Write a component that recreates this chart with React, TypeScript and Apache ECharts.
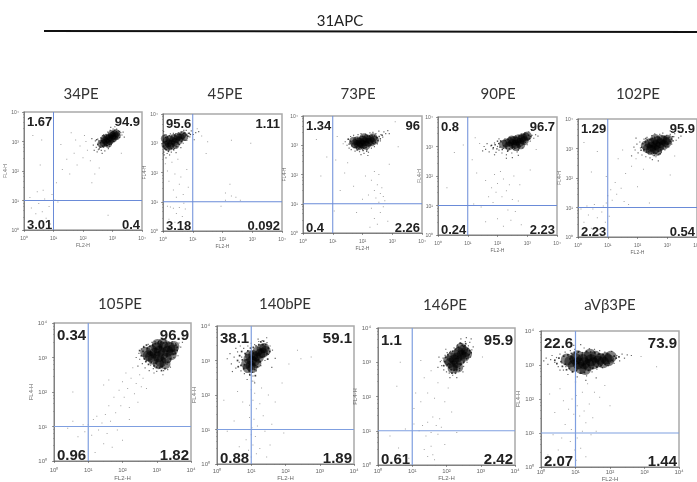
import React, { useEffect, useRef } from "react";
import * as echarts from "echarts";

// All points are written as [log10 FL2-H, log10 FL4-H].
const panelNames = ["34PE", "45PE", "73PE", "90PE", "102PE", "105PE", "140bPE", "146PE", "aVβ3PE"];
const quadrantValues = [
  ["1.67", "94.9", "3.01", "0.4"],
  ["95.6", "1.11", "3.18", "0.092"],
  ["1.34", "96", "0.4", "2.26"],
  ["0.8", "96.7", "0.24", "2.23"],
  ["1.29", "95.9", "2.23", "0.54"],
  ["0.34", "96.9", "0.96", "1.82"],
  ["38.1", "59.1", "0.88", "1.89"],
  ["1.1", "95.9", "0.61", "2.42"],
  ["22.6", "73.9", "2.07", "1.44"],
];
const gate = 10;
const tickLabels: Record<number, string> = { 1: "10⁰", 10: "10¹", 100: "10²", 1000: "10³", 10000: "10⁴" };
const panelRects = [
  [24, 112, 118, 118], [163, 114, 119, 117], [303, 116, 119, 117], [438, 117, 119, 118], [578, 119, 119, 118],
  [54, 323, 137, 138], [217, 326, 137, 138], [378, 328, 137, 137], [541, 331, 138, 136],
];
const titlePositions = [[81, 93], [225, 93], [358, 93], [498, 93], [638, 93], [120, 303], [285, 303], [445, 304], [610, 304]];
const coreSizes = [8, 8, 9, 9, 10, 11, 10, 10, 12];
const xTickMargins = [5, 5, 5, 5, 5, 6, 4, 3, 2];
const xNameGaps = [12, 12, 12, 12, 12, 14, 11, 10, 8];

const core34 = [[2.62,2.92],[2.7,2.95],[2.75,3.02],[2.8,2.98],[2.85,3.08],[2.9,3.02],[2.9,3.14],[2.95,3.1],[3,3.18],[3.02,3.1],[3.05,3.24],[3.08,3.18],[3.12,3.28],[2.72,3.08],[2.8,3.12],[2.97,3.25],[3.15,3.2],[2.85,2.92]];
const fine34 = [[2.5,2.9],[2.54,3.02],[2.58,2.8],[2.6,2.96],[2.64,3.1],[2.66,2.84],[2.68,3.02],[2.72,2.86],[2.74,3.16],[2.76,2.92],[2.8,3.2],[2.82,2.86],[2.84,3.02],[2.88,3.24],[2.9,2.9],[2.92,3.08],[2.95,2.96],[2.96,3.3],[2.98,3.04],[3.02,3.34],[3.04,3],[3.06,3.14],[3.08,3.38],[3.1,3.1],[3.14,3.34],[3.16,3.14],[3.18,3.28],[3.22,3.22],[3.24,3.34],[2.7,3.22],[2.46,3.06],[2.55,2.75]];
const halo34 = [[2.35,2.88],[2.42,3.02],[2.45,2.8],[2.5,3.08],[2.52,2.72],[2.55,2.95],[2.58,2.84],[2.6,3.12],[2.62,2.7],[2.66,3.2],[2.7,2.8],[2.74,2.68],[2.78,3.24],[2.8,2.86],[2.84,3.32],[2.86,2.76],[2.9,2.84],[2.92,3.38],[2.96,2.9],[3,2.95],[3.02,3.42],[3.05,3],[3.08,3.5],[3.1,3.05],[3.14,3.42],[3.18,3.08],[3.2,3.36],[3.24,3.14],[3.28,3.3],[3.32,3.22],[3.36,3.32],[2.48,2.65],[2.3,3.1],[3.12,3.58],[2.65,2.6],[3.4,3.15],[2.38,2.7],[2.94,3.48]];
const sparse34 = [[0.15,0.3],[0.25,0.75],[0.3,0.15],[0.4,0.55],[0.5,0.9],[0.55,0.25],[0.62,0.62],[0.7,1.05],[0.75,0.4],[0.85,0.8],[0.9,0.2],[0.95,1.2],[0.2,1.1],[0.45,1.3],[0.65,1.35],[1.05,1.02],[1.15,0.95],[1.1,1.6],[1.3,2.05],[1.45,2.4],[1.55,1.9],[1.7,2.6],[1.8,2.2],[1.9,2.85],[2,2.45],[2.1,3],[2.15,2.7],[2.25,2.35],[1.6,3.3],[1.75,3.05],[2.05,3.2],[2.4,1.9],[2.55,2.1],[2.3,1.6],[2.85,0.5],[0.6,3.05],[0.55,2.2],[0.3,3.2],[3.3,2.6],[1.25,2.9]];

const core45 = [[0.08,2.95],[0.12,3.08],[0.18,3],[0.22,3.12],[0.28,2.98],[0.32,3.08],[0.35,3.18],[0.4,3.04],[0.45,3.14],[0.5,3.22],[0.55,3.1],[0.6,3.2],[0.65,3.28],[0.15,2.88],[0.25,2.9],[0.42,2.94],[0.72,3.22],[0.06,3.16]];
const fine45 = [[0.02,2.9],[0.04,3.02],[0.06,2.82],[0.08,3.2],[0.1,2.94],[0.12,2.78],[0.14,3.22],[0.16,3.06],[0.2,2.84],[0.22,3.26],[0.24,3.02],[0.28,2.82],[0.3,3.24],[0.34,2.92],[0.38,3.28],[0.4,3.12],[0.44,2.88],[0.48,3.04],[0.5,3.3],[0.54,2.96],[0.58,3.3],[0.62,3.06],[0.66,3.16],[0.7,3.34],[0.74,3.1],[0.78,3.28],[0.84,3.24],[0.88,3.34],[0.92,3.3],[0.36,2.78],[0.18,2.72],[0.46,3.2]];
const halo45 = [[0.03,2.7],[0.05,3.28],[0.08,2.78],[0.1,3.3],[0.14,2.65],[0.18,3.25],[0.2,2.75],[0.25,3.32],[0.28,2.7],[0.3,2.82],[0.35,3.34],[0.38,2.82],[0.42,3.32],[0.48,2.88],[0.52,3.36],[0.56,2.95],[0.62,3.38],[0.68,3],[0.74,3.36],[0.8,3.1],[0.85,3.34],[0.9,3.22],[0.95,3.42],[1.02,3.3],[1.1,3.36],[1.2,3.4],[0.04,2.6],[0.1,2.5],[0.7,3.44],[0.78,3.44],[0.6,2.85],[1.05,3.12],[0.22,2.6],[0.02,3.4],[0.44,2.68]];
const sparse45 = [[0.08,2.3],[0.15,2.05],[0.2,1.7],[0.3,2.35],[0.35,1.4],[0.4,1.95],[0.45,1.15],[0.5,2.45],[0.55,1.6],[0.6,1.85],[0.68,1.25],[0.7,0.95],[0.15,0.85],[0.25,0.82],[0.35,0.78],[0.45,0.6],[0.55,0.8],[0.65,0.5],[0.4,0.3],[0.2,0.4],[0.75,0.75],[0.8,2.1],[1.5,3.05],[2.3,3.1],[2.95,3],[1.45,2.65],[2.25,1.6],[2.3,1.2],[2.1,1.05],[2.45,1.15],[2.1,1.3],[1.95,0.85],[2.6,1.05],[0.85,1.5],[1.15,3.5],[1.3,3.25]];

const core73 = [[1.75,3.05],[1.82,3.15],[1.88,2.98],[1.92,3.1],[2,3.18],[2.02,3.02],[2.08,3.12],[2.12,3],[2.15,3.22],[2.2,3.1],[2.25,3.2],[2.3,3.12],[2.35,3.26],[1.7,3.14],[1.85,3.04],[2.05,3.26],[2.4,3.18],[1.96,3.05]];
const fine73 = [[1.55,3.04],[1.6,3.14],[1.64,2.98],[1.68,3.06],[1.72,2.92],[1.76,3.2],[1.8,2.96],[1.84,3.24],[1.88,2.88],[1.92,3.22],[1.96,2.92],[2,3.3],[2.04,2.9],[2.08,3.28],[2.12,2.92],[2.16,3.32],[2.2,2.98],[2.24,3.3],[2.28,3.02],[2.32,3.34],[2.36,3.06],[2.4,3.32],[2.44,3.1],[2.48,3.26],[2.52,3.16],[2.56,3.3],[2.6,3.22],[2.02,2.82],[1.82,2.84],[2.14,2.8],[2.66,3.34],[1.52,3.2]];
const halo73 = [[1.42,3.12],[1.48,3],[1.52,3.22],[1.55,2.9],[1.6,3.3],[1.62,2.85],[1.68,2.95],[1.7,3.34],[1.75,2.8],[1.8,2.9],[1.85,3.36],[1.9,2.78],[1.95,3.4],[2,2.85],[2.05,2.72],[2.1,3.38],[2.15,2.85],[2.2,2.76],[2.25,3.42],[2.3,2.9],[2.35,3.44],[2.4,2.95],[2.45,3.4],[2.5,3.05],[2.55,3.48],[2.6,3.15],[2.62,3.36],[2.68,3.28],[2.72,3.46],[2.78,3.4],[2.85,3.5],[2.5,3.25],[1.58,3.08],[2.18,2.65],[1.95,2.68],[2.9,3.4]];
const sparse73 = [[2.3,1.8],[2.4,1.45],[2.45,1.2],[2.5,1.65],[2.55,1.05],[2.6,1.35],[2.65,1.55],[2.7,1.25],[2.75,1.1],[2.3,0.85],[2.4,0.5],[2.5,0.3],[2.6,0.7],[2.7,0.9],[2.2,1.3],[2.1,1.95],[1.7,1.6],[1.4,2.05],[0.8,2.6],[1.35,3.05],[1.1,2.5],[1.25,1.45],[2,1.15],[1.5,2.4],[2.9,2.35],[2.4,2.1],[3.1,3.8],[3.2,2.95],[0.6,1.95],[0.45,3.2],[1.15,3.3],[2.55,2],[2.25,0.2],[2.85,0.4],[1.05,0.75],[1.8,0.7]];

const core90 = [[2.2,3.08],[2.3,3.12],[2.38,3.02],[2.42,3.16],[2.5,3.1],[2.55,3.2],[2.6,3.08],[2.65,3.18],[2.7,3.26],[2.75,3.14],[2.8,3.24],[2.85,3.3],[2.9,3.2],[2.95,3.32],[2.48,3.22],[2.62,3],[2.78,3.06],[3,3.36]];
const fine90 = [[1.8,3.04],[1.86,2.96],[1.92,3.06],[1.98,2.92],[2.04,3.1],[2.08,2.98],[2.12,3.16],[2.16,2.9],[2.2,3.02],[2.26,3.2],[2.3,2.94],[2.36,3.24],[2.4,2.92],[2.44,3.06],[2.5,2.94],[2.54,3.3],[2.58,2.94],[2.64,3.32],[2.68,3.02],[2.72,3.36],[2.76,3],[2.82,3.38],[2.86,3.12],[2.9,3.4],[2.94,3.14],[3,3.24],[3.04,3.38],[3.08,3.26],[3.12,3.34],[2,3.18],[2.34,2.84],[2.7,2.88]];
const halo90 = [[1.55,3],[1.6,2.9],[1.65,3.1],[1.72,2.82],[1.78,3.02],[1.85,2.92],[1.9,3.12],[1.95,2.8],[2,3],[2.05,2.88],[2.1,3.2],[2.15,2.78],[2.2,2.94],[2.25,3.26],[2.3,2.72],[2.35,2.86],[2.42,3.3],[2.48,2.78],[2.55,2.9],[2.6,3.36],[2.66,2.82],[2.72,2.96],[2.8,3.42],[2.85,2.95],[2.92,3.46],[3,3.06],[3.05,3.5],[3.1,3.18],[3.16,3.38],[3.22,3.28],[3.28,3.4],[3.36,3.35],[2.5,2.62],[2.7,2.7],[1.5,2.85],[2.05,3.26],[1.9,2.72],[3.15,3.55],[2.3,2.6]];
const sparse90 = [[1.6,1.85],[1.7,1.3],[1.8,1.6],[1.85,1.1],[1.9,2.05],[1.95,1.45],[2,1.75],[2.1,2.15],[2.15,1.3],[2.2,1.9],[2.3,1.5],[2.35,0.85],[2.4,1.7],[2.5,1.2],[2.55,2],[2.6,0.8],[2.7,1.15],[2.75,1.7],[2.45,0.5],[2,0.55],[1.6,0.45],[1.45,0.95],[1.2,1.05],[0.85,3.05],[0.6,3.5],[0.55,2.8],[1.15,2.55],[1.3,2.1],[0.3,1.6],[1.25,3.3],[1.4,3.1],[3.1,2.2],[2.2,0.3],[2.8,0.35],[3.3,2.9],[0.9,0.3]];

const core102 = [[2.28,3.1],[2.35,3],[2.4,3.18],[2.48,3.06],[2.52,3.2],[2.58,2.98],[2.62,3.12],[2.68,3.24],[2.72,3.05],[2.78,3.18],[2.82,3.3],[2.88,3.12],[2.92,3.26],[2.98,3.2],[2.45,2.95],[2.66,2.92],[2.6,3.32],[3.02,3.3]];
const fine102 = [[2.14,3.04],[2.18,3.16],[2.22,2.96],[2.26,3.22],[2.3,2.88],[2.34,3.28],[2.38,2.9],[2.42,3.3],[2.46,2.84],[2.5,3.34],[2.54,2.88],[2.58,3.38],[2.62,2.84],[2.66,3.4],[2.7,2.9],[2.74,3.36],[2.78,2.96],[2.82,3.42],[2.86,3],[2.9,3.38],[2.94,3.06],[2.98,3.36],[3.02,3.14],[3.06,3.38],[3.1,3.24],[3.14,3.32],[3.18,3.4],[2.12,2.94],[2.28,3.34],[2.56,2.76],[2.76,2.82],[3.2,3.26]];
const halo102 = [[1.88,3.05],[1.92,2.95],[1.98,3.15],[2.02,2.85],[2.08,3.22],[2.1,3.02],[2.15,2.78],[2.2,2.92],[2.22,3.32],[2.28,2.72],[2.32,3.38],[2.38,2.82],[2.42,2.68],[2.48,3.44],[2.52,2.78],[2.58,3.5],[2.62,2.72],[2.7,2.8],[2.75,3.48],[2.8,2.88],[2.85,3.52],[2.92,2.95],[2.98,3.45],[3.05,3.05],[3.1,3.48],[3.15,3.15],[3.22,3.4],[3.3,3.28],[3.38,3.36],[3.46,3.42],[3.1,3.6],[2.7,2.58],[1.8,2.75],[2.5,2.62],[1.95,3.35],[3.25,3.5]];
const sparse102 = [[0.1,0.95],[0.2,0.5],[0.3,1.05],[0.35,0.75],[0.45,0.3],[0.5,0.95],[0.55,1.1],[0.65,0.65],[0.7,0.25],[0.8,0.85],[0.85,1.05],[0.92,0.5],[0.95,1.15],[1,1.4],[1.05,0.7],[1.1,1.6],[1.15,1.25],[1.25,1.85],[1.3,1.45],[1.45,1.65],[1.55,1.2],[1.6,2.15],[1.7,1.1],[1.8,2.4],[1.35,2.65],[0.95,2.05],[0.65,2.9],[0.45,2.2],[1.5,2.95],[2,1.7],[2.2,2.3],[2.4,1.15],[1.95,2.65],[3.1,2.1],[3.25,2.75],[0.2,3.2]];

const core105 = [[2.75,3.05],[2.85,3.2],[2.9,2.95],[2.95,3.12],[3,3.28],[3.05,3.02],[3.08,3.18],[3.12,2.88],[3.18,3.1],[3.22,3.3],[3.28,2.98],[3.32,3.18],[3.38,3.3],[3.42,3.08],[3.46,3.22],[2.82,3.02],[3.05,2.82],[3.24,2.82],[3.5,3.32],[3.02,3.38],[3.18,3.4],[2.68,3.15]];
const fine105 = [[2.55,3.05],[2.6,3.18],[2.64,2.96],[2.68,2.88],[2.72,3.26],[2.76,2.8],[2.8,3.32],[2.84,2.86],[2.88,3.36],[2.92,2.76],[2.96,3.4],[3,2.72],[3.04,3.42],[3.08,2.7],[3.12,3.44],[3.16,2.74],[3.2,3.42],[3.24,2.68],[3.28,3.44],[3.32,2.86],[3.36,3.42],[3.4,2.96],[3.44,3.4],[3.48,3.1],[3.52,3.22],[3.56,3.36],[3.6,3.3],[2.7,3.36],[2.98,2.84],[3.14,2.62],[2.62,3.3],[3.3,3.06],[3.1,3.26],[2.9,3.08],[3.54,3.12],[2.5,3.2]];
const halo105 = [[2.48,3.12],[2.5,2.95],[2.55,3.25],[2.58,2.82],[2.62,3.32],[2.66,2.7],[2.7,2.9],[2.75,3.38],[2.78,2.62],[2.82,2.78],[2.86,3.44],[2.9,2.68],[2.95,3.46],[3,2.6],[3.05,3.46],[3.1,2.72],[3.15,3.46],[3.2,2.62],[3.25,3.48],[3.3,2.8],[3.35,3.46],[3.4,2.9],[3.45,3.46],[3.5,3],[3.55,3.4],[3.6,3.2],[3.65,3.42],[3.7,3.3],[3.75,3.44],[3.62,3.05],[2.4,3],[2.92,2.55],[3.18,2.5],[2.45,2.75],[3.32,2.65],[3.4,2.72]];
const sparse105 = [[0.4,0.95],[0.55,1.15],[0.7,0.7],[0.85,1.05],[0.9,0.85],[1,1.05],[1.1,0.75],[1.15,1.2],[1.25,1.3],[1.3,0.9],[1.4,1.1],[1.45,0.5],[1.5,1.35],[1.55,0.8],[1.6,1.6],[1.65,1.15],[1.7,0.4],[1.75,1.85],[1.8,1.4],[1.85,0.9],[1.9,2.05],[1.95,1.6],[2,2.3],[2.05,1.85],[2.1,2.55],[2.15,2.1],[2.2,1.55],[2.25,2.4],[2.3,2.7],[2.35,1.95],[2.4,2.25],[2.45,1.7],[2.5,2.5],[2.55,2.15],[2.6,2.4],[1.6,2.35],[1.45,2.2],[2.2,1.2],[0.55,2],[1.2,0.25],[2,0.6],[2.7,2.1]];

const core140 = [[0.85,2.9],[0.92,3.05],[0.98,2.85],[1.02,3],[1.06,3.16],[1.1,2.98],[1.14,3.12],[1.18,3.26],[1.22,3.08],[1.26,3.2],[1.3,3.34],[1.34,3.22],[1.38,3.36],[1.03,2.78],[0.96,3.15],[1.15,2.92],[1.42,3.28],[0.9,2.78]];
const fine140 = [[0.6,3],[0.66,3.14],[0.7,2.86],[0.74,3.02],[0.78,2.76],[0.82,3.2],[0.86,3.02],[0.9,3.28],[0.94,2.7],[0.98,3.36],[1.02,2.66],[1.06,3.38],[1.1,2.74],[1.14,3.42],[1.18,2.82],[1.22,3.46],[1.26,2.96],[1.3,3.1],[1.34,3.46],[1.38,3.12],[1.42,3.46],[1.46,3.2],[1.5,3.36],[1.54,3.26],[0.8,2.88],[0.72,3.26],[1.12,2.56],[0.96,2.58],[1.28,3.54],[1.36,3.56],[0.62,2.82],[1.48,3.04]];
const halo140 = [[0.3,3.05],[0.38,3.2],[0.42,2.9],[0.5,3.1],[0.55,2.78],[0.6,3.25],[0.65,2.95],[0.7,2.7],[0.72,3.1],[0.78,3.35],[0.8,2.62],[0.85,3.18],[0.9,3.42],[0.95,2.6],[1,3.5],[1.05,2.55],[1.1,3.46],[1.15,2.7],[1.22,3.55],[1.28,2.85],[1.32,3.58],[1.4,3],[1.46,3.52],[1.5,3.18],[1.55,3.42],[1.62,3.3],[0.68,3.42],[1.2,3.62],[1.02,2.4],[0.88,2.45],[1.1,2.35],[0.55,3.35],[1.7,3.06],[1.45,3.66],[0.45,2.68],[1.6,2.8]];
const sparse140 = [[1,2.15],[1.05,1.85],[1.1,2.05],[1.15,1.6],[0.95,1.35],[1.02,1.05],[1.08,1.3],[1.12,0.8],[1.18,1.1],[1.25,1.75],[1.3,2.2],[1.35,1.4],[1.4,0.95],[0.85,0.7],[0.92,0.4],[1,0.2],[1.05,0.55],[1.15,0.3],[1.25,0.45],[0.75,1.8],[0.6,2.1],[0.5,1.25],[0.3,0.95],[0.65,0.5],[1.6,1.15],[1.5,2],[1.7,1.8],[1.9,2.35],[2.1,2.9],[2.35,3.3],[2.75,3.1],[2.45,3.05],[0.2,1.85],[1.45,0.2],[1.95,0.9],[1.55,0.55],[0.95,1.7],[1.08,2.4],[1,0.85]];

const core146 = [[2.1,2.98],[2.15,3.14],[2.2,2.9],[2.22,3.08],[2.26,3.22],[2.3,2.98],[2.32,3.14],[2.36,3.3],[2.4,3.06],[2.44,3.22],[2.48,3.36],[2.52,3.16],[2.56,3.3],[2.18,2.82],[2.34,2.85],[2.05,3.06],[2.42,3.42],[2.6,3.24]];
const fine146 = [[1.95,3.02],[1.98,3.14],[2.02,2.92],[2.04,3.22],[2.08,2.84],[2.1,3.28],[2.14,2.78],[2.18,3.32],[2.22,2.76],[2.26,3.38],[2.3,2.78],[2.34,3.44],[2.38,2.82],[2.42,2.94],[2.46,3.5],[2.5,3],[2.54,3.48],[2.58,3.1],[2.62,3.4],[2.66,3.22],[2.68,3.34],[2.12,3.08],[2.28,3.06],[2.38,3.18],[2.5,3.46],[2.06,2.96],[2.26,2.68],[2.72,3.28],[1.92,2.9],[2.4,3.56],[2.56,3.54],[2.16,2.68]];
const halo146 = [[1.82,3.02],[1.86,2.9],[1.9,3.12],[1.92,2.78],[1.96,3.2],[2,2.72],[2.02,3.28],[2.08,2.68],[2.12,3.32],[2.18,2.62],[2.22,3.42],[2.28,2.7],[2.32,3.5],[2.38,2.76],[2.44,3.55],[2.5,2.88],[2.55,3.6],[2.6,3],[2.64,3.48],[2.7,3.15],[2.74,3.36],[2.78,3.45],[2.42,3.68],[2.3,2.55],[2.1,2.55],[1.78,3.15],[1.75,2.85],[2.58,3.72],[2.68,3.58],[2.48,2.72],[2.72,3.68],[1.98,3.38]];
const sparse146 = [[1.2,1],[1.3,1.15],[1.4,0.85],[1.45,1.25],[1.55,0.95],[1.6,1.4],[1.7,1.15],[1.75,0.9],[1.8,1.35],[1.85,1.1],[1.35,0.45],[1.45,0.25],[1.55,0.55],[1.6,0.3],[1.65,0.15],[1.05,1.65],[1.1,2.1],[1.25,1.85],[1.35,2.55],[1.45,2.1],[1.55,2.75],[1.65,1.95],[1.75,2.4],[1.85,3.05],[1.95,1.85],[2.05,2.25],[1.25,3.05],[0.65,3],[0.55,2.3],[0.35,0.85],[0.6,0.5],[0.8,1.05],[0.9,0.2],[2.15,1.55],[3.05,3.15],[1.05,1.2],[2.3,0.95],[1.95,0.6]];

const core9 = [[0.85,3.1],[0.95,2.98],[1,3.18],[1.08,3.05],[1.15,2.92],[1.2,3.15],[1.25,3.05],[1.32,3.22],[1.38,3],[1.45,3.14],[1.52,3.05],[1.58,3.24],[1.65,3.1],[1.72,3.18],[1.8,3.08],[1.88,3.2],[1.95,3.14],[1.05,3.26],[1.28,2.88],[2.02,3.24],[0.75,3.16],[1.42,3.3]];
const fine9 = [[0.4,3.14],[0.46,3.04],[0.52,3.2],[0.58,3.1],[0.62,2.96],[0.66,3.26],[0.7,3.02],[0.74,2.86],[0.78,3.3],[0.82,2.9],[0.88,3.34],[0.92,2.8],[0.98,3.36],[1.02,2.84],[1.08,3.38],[1.14,2.76],[1.2,3.36],[1.26,2.78],[1.32,3.4],[1.38,2.84],[1.44,3.38],[1.5,2.9],[1.56,3.36],[1.62,2.94],[1.68,3.32],[1.74,2.98],[1.8,3.3],[1.86,3.02],[1.92,3.32],[1.98,3.04],[2.06,3.14],[2.12,3.26],[2.18,3.2],[2.26,3.24],[0.84,3.18],[1.1,2.98]];
const halo9 = [[0.08,3.12],[0.15,3.2],[0.2,3.02],[0.28,3.16],[0.32,3.28],[0.4,3.08],[0.45,3.22],[0.5,2.95],[0.55,3.32],[0.6,3.06],[0.65,2.85],[0.7,3.38],[0.72,2.95],[0.78,2.72],[0.85,3.42],[0.9,2.8],[0.98,3.46],[1.05,2.65],[1.1,3.4],[1.18,2.75],[1.25,3.5],[1.32,2.68],[1.4,3.48],[1.48,2.8],[1.55,3.46],[1.62,2.88],[1.7,3.42],[1.78,2.92],[1.85,3.38],[1.95,2.98],[2.05,3.4],[2.12,3.05],[2.2,3.28],[2.28,3.12],[2.35,3.32],[2.42,3.2],[2.5,3.3],[0.55,2.85],[2.62,3.28],[1,2.5],[0.95,3.58],[1.15,3.6],[1.6,2.62],[1.3,2.55]];
const sparse9 = [[1,2.35],[1.02,2.1],[1.05,1.8],[0.95,1.55],[1,1.2],[1.05,0.85],[0.98,0.5],[1.02,0.2],[0.9,2],[0.8,1.7],[0.7,1.25],[0.6,0.85],[0.5,0.5],[0.35,0.95],[0.2,0.35],[0.75,0.3],[0.85,0.75],[1.2,2.2],[1.25,1.65],[1.3,1.3],[1.35,2.45],[1.4,1.85],[1.45,0.95],[1.5,1.45],[1.55,2.2],[1.15,0.55],[1.3,0.3],[1.6,1.05],[0.4,1.6],[0.55,2.3],[0.25,2.15],[0.65,1.95],[1.7,2.05],[1.85,2.4],[2,1.8],[1.2,1.05],[3.35,2.95],[2.9,3.25],[0.88,1.1],[1.12,1.5]];

const coreSets = [core34, core45, core73, core90, core102, core105, core140, core146, core9];
const fineSets = [fine34, fine45, fine73, fine90, fine102, fine105, fine140, fine146, fine9];
const haloSets = [halo34, halo45, halo73, halo90, halo102, halo105, halo140, halo146, halo9];
const sparseSets = [sparse34, sparse45, sparse73, sparse90, sparse102, sparse105, sparse140, sparse146, sparse9];

const toAxis = (list: number[][]) => list.map(([x, y]) => [Math.pow(10, x), Math.pow(10, y)]);

function buildOption() {
  const grid: any[] = [], xAxis: any[] = [], yAxis: any[] = [], series: any[] = [], graphic: any[] = [];
  graphic.push({ type: "text", x: 340, y: 20, style: { text: "31APC", font: "15px Lato", fill: "#222", textAlign: "center", textVerticalAlign: "middle" } });
  graphic.push({ type: "line", shape: { x1: 44, y1: 31, x2: 697, y2: 32 }, style: { stroke: "#111", lineWidth: 2 } });
  panelNames.forEach((name, i) => {
    const [x, y, w, h] = panelRects[i];
    const second = i >= 5;
    grid.push({ left: x, top: y, width: w, height: h, show: true, outerBoundsMode: "none", borderColor: "#a9a9a9", borderWidth: 1.5, backgroundColor: "#fff" });
    const axisBase = {
      type: "log", logBase: 10, min: 1, max: 10000, gridIndex: i, splitLine: { show: false },
      axisLine: { show: true, onZero: false, lineStyle: { color: "#555", width: 0.6 } },
      axisTick: { show: true, length: 2, lineStyle: { color: "#555", width: 0.6 } },
      minorTick: { show: true, length: 1, lineStyle: { color: "#777", width: 0.5 } },
    };
    const labelBase = { fontSize: second ? 6 : 5, color: "#666", fontFamily: "Liberation Sans", formatter: (v: number) => tickLabels[Math.round(v)] ?? "" };
    const nameStyle = { fontSize: second ? 6 : 5, color: "#666", fontFamily: "Liberation Sans" };
    xAxis.push({ ...axisBase, axisLabel: { ...labelBase, margin: xTickMargins[i] }, name: "FL2-H", nameLocation: "middle", nameGap: xNameGaps[i], nameTextStyle: nameStyle });
    yAxis.push({ ...axisBase, axisLabel: { ...labelBase, margin: second ? 7 : 5 }, name: "FL4-H", nameLocation: "middle", nameGap: second ? 19 : 15, nameTextStyle: nameStyle });
    const common = { xAxisIndex: i, yAxisIndex: i, silent: true };
    const points = { ...common, type: "scatter", clip: true };
    series.push({ ...points, symbol: "rect", symbolSize: 1, itemStyle: { color: "#8c8c8c" }, data: toAxis(sparseSets[i]) });
    series.push({ ...points, symbol: "rect", symbolSize: 1.2, itemStyle: { color: "#444" }, data: toAxis(haloSets[i]) });
    series.push({ ...points, symbol: "circle", symbolSize: coreSizes[i], itemStyle: { color: "#000", opacity: 0.5 }, data: toAxis(coreSets[i]) });
    series.push({ ...points, symbol: "rect", symbolSize: second ? 1.7 : 1.4, itemStyle: { color: "#111" }, data: toAxis(fineSets[i]) });
    const gateStyle = { color: second ? "#7f9fe0" : "#6a8bd8", width: second ? 1.2 : 1, type: "solid" };
    const gateLine = { ...common, type: "line", showSymbol: false, z: 5, lineStyle: gateStyle };
    series.push({ ...gateLine, data: [[gate, 1], [gate, 10000]] });
    series.push({ ...gateLine, data: [[1, gate], [10000, gate]] });
    const [tx, ty] = titlePositions[i];
    graphic.push({ type: "text", x: tx, y: ty, style: { text: name, font: "15px Lato", fill: "#333", textAlign: "center", textVerticalAlign: "middle" } });
    const [tl, tr, bl, br] = quadrantValues[i];
    const font = `bold ${second ? 15 : 13}px "Liberation Sans"`;
    const topY = y + (second ? 11 : 9), botY = y + h - (second ? 7 : 6);
    const place = (text: string, px: number, py: number, align: string) =>
      graphic.push({ type: "text", x: px, y: py, z: 10, style: { text, font, fill: "#222", textAlign: align, textVerticalAlign: "middle" } });
    place(tl, x + 3, topY, "left");
    place(tr, x + w - 2, topY, "right");
    place(bl, x + 3, botY, "left");
    place(br, x + w - 2, botY, "right");
  });
  return { animation: false, backgroundColor: "#fff", grid, xAxis, yAxis, series, graphic };
}

export default function App() {
  const ref = useRef<HTMLDivElement>(null);
  useEffect(() => {
    document.body.style.margin = "0";
    const chart = echarts.init(ref.current!, undefined, { renderer: "svg" });
    chart.setOption(buildOption() as any);
    return () => chart.dispose();
  }, []);
  return <div ref={ref} style={{ width: 697, height: 482, filter: "blur(0.35px)" }} />;
}
